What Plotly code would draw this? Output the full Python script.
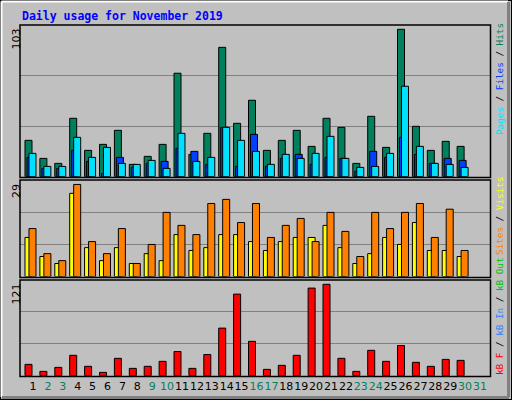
import plotly.graph_objects as go

days = list(range(1, 31))
hits = [25.4,12.8,9.3,40.8,18.4,22.6,32.4,8.6,14.2,22.6,72.3,15.6,30.3,90.4,37.3,53.4,
        18.4,25.4,32.4,21.2,40.8,34.5,9.3,42.2,20.5,103,35.2,18.4,24.7,21.2]
files = [13.5,5.8,5.8,18.4,10.7,2.3,13.5,6.5,9.3,10.7,19.8,17.7,8.6,34.5,7.2,29.6,
         7.2,12.8,15.6,8.6,13.5,12.8,3.7,17.7,13.5,27.5,15.6,9.3,12.8,11.4]
pages = [16.3,7.2,7.2,27.5,13.5,20.5,9.3,8.6,11.4,5.8,30.3,10.7,13.5,34.5,25.4,17.7,
         8.6,15.6,12.8,16.3,28.2,12.8,6.5,7.2,16.3,63.2,21.2,9.3,8.6,6.5]
visits = [12.3,6.3,4.1,26.2,9.1,5.0,9.1,4.1,7.2,5.0,13.2,8.2,9.1,13.2,13.2,11.0,
          8.2,11.0,12.3,12.3,16.1,9.1,4.1,7.2,12.3,10.1,17.0,8.2,8.2,6.3]
sites = [15.1,7.2,5.0,29,11.0,7.2,15.1,4.1,10.1,20.2,16.1,13.2,23.0,24.3,17.0,23.0,
         12.3,16.1,18.3,11.0,20.2,14.2,6.3,20.2,15.1,20.2,23.0,12.3,21.2,8.2]
kbf = [15,5.7,11,27,12.4,4.4,23,9.7,12.4,19,32,9.7,28,63,108,45.5,
       8.4,13.7,27,116,121,23,5.7,33.6,19,40,17.7,12.4,21.6,20.3]
all_days = list(range(1, 32))
weekend = [2,3,9,10,16,17,23,24,30,31]

W, H = 512, 400
def py(p): return 1 - p / H
def px(p): return p / W

GREEN, BLUE, CYAN = "#00805C", "#0040FF", "#00E0FF"
YEL, ORA, RED = "#FFFF00", "#FF8000", "#FF0000"
BW = 0.47

fig = go.Figure()
def bar(y, color, off, ax):
    fig.add_trace(go.Bar(x=days, y=y, marker=dict(color=color, line=dict(color="black", width=1)),
                         width=BW, offset=off, yaxis=ax, hoverinfo="skip"))
bar(hits, GREEN, -0.537, "y3")
bar(files, BLUE, -0.403, "y3")
bar(pages, CYAN, -0.27, "y3")
bar(visits, YEL, -0.537, "y2")
bar(sites, ORA, -0.27, "y2")
bar(kbf, RED, -0.537, "y")

def yax(dom, rmax):
    return dict(domain=dom, range=[0, rmax], tickvals=[rmax/3, 2*rmax/3], showticklabels=False,
                showgrid=True, gridcolor="#808080", gridwidth=1, zeroline=False, showline=False,
                ticks="", anchor="x", fixedrange=True)

ticktext = [f"<span style='color:{GREEN}'>{d}</span>" if d in weekend else str(d) for d in all_days]

fig.update_layout(
    width=W, height=H, margin=dict(l=0, r=0, t=0, b=0),
    paper_bgcolor="#C0C0C0", plot_bgcolor="#C0C0C0", barmode="overlay", showlegend=False,
    font=dict(family="DejaVu Sans", size=11, color="black"),
    xaxis=dict(domain=[px(20), px(490)], range=[0.128, 31.67], tickvals=all_days, ticktext=ticktext,
               showgrid=False, zeroline=False, showline=False, ticks="", anchor="y", tickangle=0,
               tickfont=dict(family="DejaVu Sans", size=11), ticklabelstandoff=2),
    yaxis=yax([py(375.7), py(280)], 126.7),
    yaxis2=yax([py(276.5), py(180)], 30.4),
    yaxis3=yax([py(176.7), py(25)], 106.0),
)

shapes = []
shapes.append(dict(type="rect", xref="paper", yref="paper", x0=0, x1=1, y0=0, y1=1,
                   line=dict(color="black", width=2)))
shapes.append(dict(type="line", xref="paper", yref="paper", x0=px(1.5), x1=px(1.5), y0=py(397), y1=py(1.5),
                   line=dict(color="white", width=2)))
shapes.append(dict(type="line", xref="paper", yref="paper", x0=px(1.5), x1=px(508), y0=py(1.5), y1=py(1.5),
                   line=dict(color="white", width=2)))
shapes.append(dict(type="line", xref="paper", yref="paper", x0=px(508.5), x1=px(508.5), y0=py(397), y1=py(2),
                   line=dict(color="#808080", width=3)))
shapes.append(dict(type="line", xref="paper", yref="paper", x0=px(2), x1=px(509), y0=py(397.5), y1=py(397.5),
                   line=dict(color="#808080", width=3)))
for top, bot in [(25, 177.5), (180, 277.5), (280, 376.5)]:
    shapes.append(dict(type="rect", xref="paper", yref="paper", x0=px(20), x1=px(490.5),
                       y0=py(bot), y1=py(top), line=dict(color="black", width=1.5), layer="above"))
fig.update_layout(shapes=shapes)

anns = [dict(text="Daily usage for November 2019", x=px(20), y=py(16), xanchor="left", yanchor="middle",
             font=dict(family="DejaVu Sans Mono", size=11.5, color="#0000FF", weight="bold"))]
for txt, ytop in [("103", 27), ("29", 182), ("121", 282)]:
    anns.append(dict(text=txt, x=px(16), y=py(ytop), xanchor="center", yanchor="top", textangle=-90,
                     font=dict(family="DejaVu Sans", size=11)))
def sp(t, c): return f"<span style='color:{c}'>{t}</span>"
mono = dict(family="DejaVu Sans Mono", size=9.3, color="black")
anns.append(dict(text=sp("Pages", CYAN) + " / " + sp("Files", BLUE) + " / " + sp("Hits", GREEN),
                 x=px(499), y=py(137), xanchor="center", yanchor="bottom", textangle=-90, font=mono))
anns.append(dict(text=sp("Sites", ORA) + " / " + sp("Visits", YEL),
                 x=px(499), y=py(257), xanchor="center", yanchor="bottom", textangle=-90, font=mono))
anns.append(dict(text=sp("kB F", RED) + " / " + sp("kB In", "#3080FF") + " / " + sp("kB Out", "#00C000"),
                 x=px(499), y=py(377), xanchor="center", yanchor="bottom", textangle=-90, font=mono))
for a in anns:
    a.update(xref="paper", yref="paper", showarrow=False)
fig.update_layout(annotations=anns)

fig.write_html("out.html", config={"displayModeBar": False},
               post_script="document.body.style.margin='0';document.body.style.overflow='hidden';")
